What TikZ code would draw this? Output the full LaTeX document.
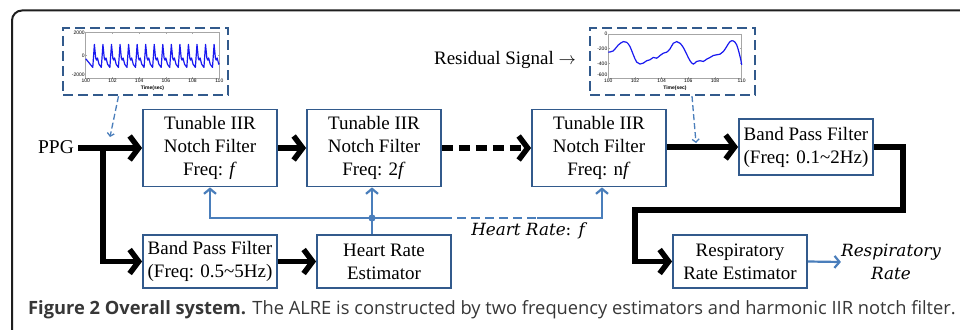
\documentclass[tikz,border=0pt]{standalone}
\usepackage{fontspec}
\setmainfont{Liberation Serif}
\newfontfamily\capfont{Open Sans}
\newfontfamily\mitfont{DejaVu Serif}
\newfontfamily\tickfont{Liberation Sans}
\usetikzlibrary{arrows.meta}
\definecolor{boxblue}{RGB}{50,90,140}
\definecolor{linkblue}{RGB}{74,126,187}
\definecolor{plotblue}{RGB}{25,25,240}
\definecolor{capgray}{RGB}{55,55,55}
\definecolor{framegray}{RGB}{30,30,30}
\tikzset{
  fbox/.style={draw=boxblue, line width=1.8pt, align=center, inner sep=0pt,
    font=\fontsize{19}{23}\selectfont},
  thickln/.style={line width=5.5pt, draw=black},
  bigtip/.style={-{Straight Barb[length=9pt,width=24pt]}},
  thickarr/.style={thickln, bigtip},
  bluearr/.style={line width=2.2pt, draw=linkblue, -{Straight Barb[length=5pt,width=12pt]}},
  blueln/.style={line width=2.2pt, draw=linkblue},
  insetbox/.style={draw=boxblue, line width=2.4pt, dash pattern=on 10pt off 5pt,
    minimum width=165pt, minimum height=67pt, inner sep=0pt},
  insetarr/.style={draw=linkblue, line width=1.3pt, dash pattern=on 6pt off 3pt,
    -{Straight Barb[length=3pt,width=7pt]}},
  tick/.style={font=\tickfont\fontsize{5}{5}\selectfont, inner sep=0.8pt},
  axisln/.style={draw=gray!70, line width=0.5pt},
}
\begin{document}
\begin{tikzpicture}[x=1pt, y=-1pt]
\useasboundingbox (0,0) rectangle (960,329);
\clip (0,0) rectangle (960,329);
\fill[white] (0,0) rectangle (960,329);
% frame
\draw[line width=2pt, draw=framegray, rounded corners=10pt] (12,10.5) rectangle (1000,380);

% boxes
\node[fbox, minimum width=134pt, minimum height=77pt] (b1) at (210,148) {Tunable IIR\\Notch Filter\\Freq: \textit{f}};
\node[fbox, minimum width=134pt, minimum height=77pt] (b2) at (374,148) {Tunable IIR\\Notch Filter\\Freq: 2\textit{f}};
\node[fbox, minimum width=134pt, minimum height=77pt] (b3) at (599,148) {Tunable IIR\\Notch Filter\\Freq: n\textit{f}};
\node[fbox, minimum width=134pt, minimum height=56pt] (bp2) at (806,147) {Band Pass Filter\\(Freq: 0.1\textasciitilde 2Hz)};
\node[fbox, minimum width=134pt, minimum height=53pt] (bp1) at (210,261.5) {Band Pass Filter\\(Freq: 0.5\textasciitilde 5Hz)};
\node[fbox, minimum width=134pt, minimum height=53pt] (hr) at (384,261.5) {Heart Rate\\Estimator};
\node[fbox, minimum width=134pt, minimum height=53pt] (rr) at (740,261.5) {Respiratory\\Rate Estimator};

% labels
\node[font=\fontsize{19.5}{23}\selectfont, inner sep=0pt] (ppg) at (56,147) {PPG};
\node[font=\fontsize{19}{23}\selectfont, inner sep=0pt] (res) at (505,60) {Residual Signal $\rightarrow$};
\node[font=\mitfont\itshape\fontsize{16.8}{21}\selectfont, inner sep=0pt, anchor=base] (hrl) at (528,235) {Heart Rate\upshape:\itshape{} f};
\node[font=\mitfont\itshape\fontsize{16.8}{23}\selectfont, inner sep=0pt, align=center] (rrl) at (891,262) {Respiratory\\Rate};

% coordinates
\coordinate (j1) at (103,148);
\coordinate (hb) at (372,218);
\coordinate (hd1) at (443,218);
\coordinate (hd2) at (537,218);
\coordinate (h3) at (602,218);
\coordinate (l1) at (903,210);
\coordinate (l2) at (635,210);

% black connectors
\draw[thickln] (ppg.east |- j1) ++(4,0) -- (j1);
\draw[thickarr] (j1) -- (j1 -| b1.west);
\draw[thickarr] ([yshift=-2.75pt]j1) |- (bp1.west);
\draw[thickarr] (b1.east) -- (b2.west);
\draw[thickarr, dash pattern=on 11pt off 6pt] (b2.east) -- (b3.west);
\draw[thickarr] (b3.east |- bp2.west) -- (bp2.west);
\draw[thickarr] (bp2.east) -| (l1) -- (l2) |- (rr.west);
\draw[thickarr] (bp1.east) -- (hr.west);

% blue connectors
\draw[blueln] (hr.north -| hb) -- (hb);
\draw[bluearr] (hb) -- (hb |- b2.south);
\draw[bluearr] (hb) -| (b1.south);
\draw[blueln] (hb) -- (hd1);
\draw[blueln, dash pattern=on 9pt off 5pt] (hd1) -- (hd2);
\draw[bluearr] (hd2) -| (h3 |- b3.south);
\fill[linkblue] (hb) circle (3.6pt);
\draw[bluearr] (rr.east) -- (rrl.west);

% inset 1
\node[insetbox] (in1) at (145.5,61.5) {};
\coordinate (a1) at (110,137);
\draw[insetarr] ([xshift=-27pt]in1.south) -- (a1);
\begin{scope}[shift={(85.7,55.3)}, x=13.36pt, y=0.0115pt]
  \draw[axisln] (0,-2000) rectangle (10,2000);
  \foreach \t/\l in {0/100,2/102,4/104,6/106,8/108,10/110}{
    \draw[axisln] (\t,-2000) -- ++(0,120) (\t,2000) -- ++(0,-120);
    \node[tick, below] at (\t,-2000) {\l};
  }
  \foreach \v/\l in {2000/2000,0/0,-1700/-2000}{
    \node[tick, left] at (0,\v) {\l};
  }
  \foreach \v in {2000,0,-2000}{
    \draw[axisln] (0,\v) -- ++(0.12,0) (10,\v) -- ++(-0.12,0);
  }
  \node[tick, font=\tickfont\bfseries\fontsize{5}{5}\selectfont] at (5,-2000) [yshift=-10pt] {Time(sec)};
  \draw[plotblue, line width=1.2pt, line join=round]
    (0,-300) \foreach \k in {0,...,14}{
      -- ({0.53+0.64*\k},-1050) -- ({0.65+0.64*\k},950) -- ({0.75+0.64*\k},-250)
      -- ({0.81+0.64*\k},-420) -- ({0.88+0.64*\k},-230) -- ({1.0+0.64*\k},-780)
    } -- (10,-700);
\end{scope}

% inset 2
\node[insetbox] (in2) at (672.5,61.5) {};
\coordinate (a2) at (696,143);
\draw[insetarr] ([xshift=19.5pt]in2.south) -- (a2);
\begin{scope}[shift={(608.3,34)}, x=13.34pt, y=0.0733pt]
  \draw[axisln] (0,-600) rectangle (10,0);
  \foreach \t/\l in {0/100,2/102,4/104,6/106,8/108,10/110}{
    \draw[axisln] (\t,-600) -- ++(0,18) (\t,0) -- ++(0,-18);
    \node[tick, below] at (\t,-600) {\l};
  }
  \foreach \v/\l in {0/0,-200/-200,-400/-400,-560/-600}{
    \node[tick, left] at (0,\v) {\l};
  }
  \foreach \v in {0,-200,-400,-600}{
    \draw[axisln] (0,\v) -- ++(0.12,0) (10,\v) -- ++(-0.12,0);
  }
  \node[tick, font=\tickfont\bfseries\fontsize{5}{5}\selectfont] at (5,-600) [yshift=-10pt] {Time(sec)};
  \draw[plotblue, line width=1.2pt] plot[smooth, tension=0.6] coordinates {
    (0,-248)(0.375,-230)(0.75,-150)(1.125,-104)(1.375,-113)(1.625,-171)(1.875,-284)
    (2.125,-383)(2.375,-410)(2.625,-397)(2.875,-365)(3.125,-352)(3.375,-320)(3.625,-330)
    (3.875,-293)(4.125,-262)(4.375,-248)(4.625,-203)(4.875,-126)(5.125,-104)(5.375,-126)
    (5.625,-185)(5.875,-275)(6.125,-365)(6.375,-410)(6.625,-374)(6.875,-365)(7.125,-374)
    (7.375,-343)(7.625,-320)(7.875,-293)(8.125,-284)(8.375,-275)(8.625,-239)(8.875,-171)
    (9.125,-104)(9.375,-95)(9.625,-149)(9.875,-307)(10,-420)};
\end{scope}

% caption
\node[anchor=base west, inner sep=0pt, text=capgray, font=\capfont\fontsize{18.3}{18}\selectfont] (cap) at (28,314)
  {\textbf{Figure 2 Overall system.} The ALRE is constructed by two frequency estimators and harmonic IIR notch filter.};
\end{tikzpicture}
\end{document}
